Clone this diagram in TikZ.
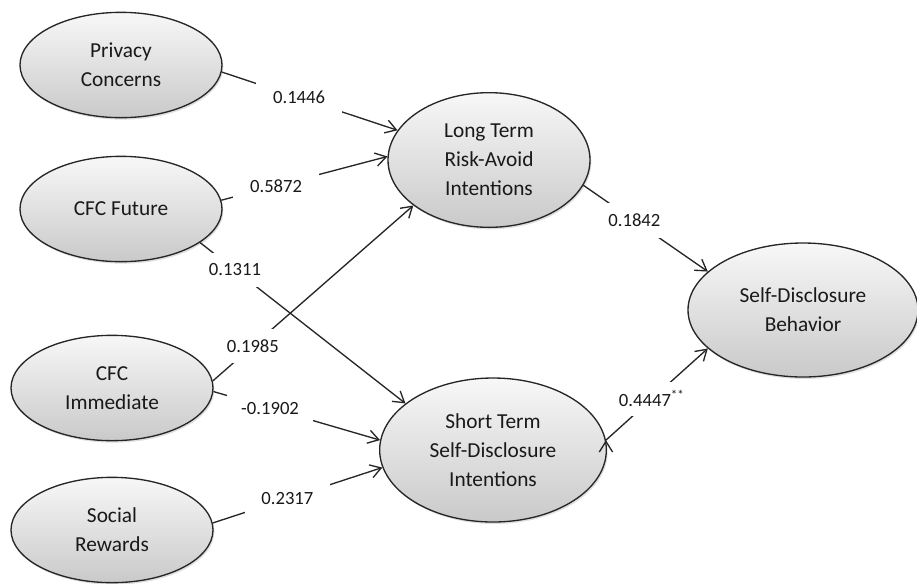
\documentclass[tikz,border=0pt]{standalone}
\usepackage{fontspec}
\setmainfont{Carlito}
\usepackage{tikz}
\usetikzlibrary{shapes.geometric,arrows.meta,shadows}

\tikzset{
	construct/.style={ellipse, draw=black!85, line width=1pt, top color=gray!6, bottom color=gray!42,
		drop shadow={opacity=0.25, shadow xshift=1pt, shadow yshift=-1.5pt},
		align=center, inner sep=0pt, text=black!90, font=\fontsize{16}{21.75}\selectfont},
	exo/.style={construct, minimum width=151.5pt, minimum height=79pt},
	coef/.style={fill=white, inner sep=0pt, minimum width=64pt, minimum height=26pt, text=black!90, font=\fontsize{14}{16}\selectfont}
}

\begin{document}
\begin{tikzpicture}[x=0.75pt, y=-0.75pt, >={Straight Barb[length=8pt,width=10pt]}]
\useasboundingbox (0,0) rectangle (917,583);
%exogenous constructs
\node[exo] (pc) at (121,65)  {Privacy\\Concerns};
\node[exo] (cf) at (121,209) {CFC Future};
\node[exo] (ci) at (112,388) {CFC\\Immediate};
\node[exo] (sr) at (112,530) {Social\\Rewards};
%intentions and behaviour
\node[construct, minimum width=151.5pt, minimum height=101pt] (lt) at (489,160) {Long Term\\Risk-Avoid\\Intentions};
\node[construct, minimum width=170pt, minimum height=108pt] (st) at (493,450) {Short Term\\Self-Disclosure\\Intentions};
\node[construct, minimum width=172.5pt, minimum height=100.5pt] (sd) at (803,310) {Self-Disclosure\\Behavior};
%\path[->,line width=1pt]
\path[->, line width=1pt, draw=black!85]
(pc.-4)  edge node[coef, pos=.44]{0.1446} (lt.162)
(cf.5)   edge node[coef, pos=.33]{0.5872} (lt.178)
(cf.-23) edge node[coef, pos=.17]{0.1311} (st.152)
(ci.4)   edge node[coef, pos=.20]{0.1985} (lt.211)
(ci.-2)  edge node[coef, pos=.34]{-0.1902} (st.175)
(sr.4)   edge node[coef, pos=.44]{0.2317} (st.189)
(lt.-15) edge node[coef, pos=.41]{0.1842} (sd.158)
(st.5)   edge node[coef, pos=.45]{0.4447\textsuperscript{**}} (sd.202);
\end{tikzpicture}
\end{document}
